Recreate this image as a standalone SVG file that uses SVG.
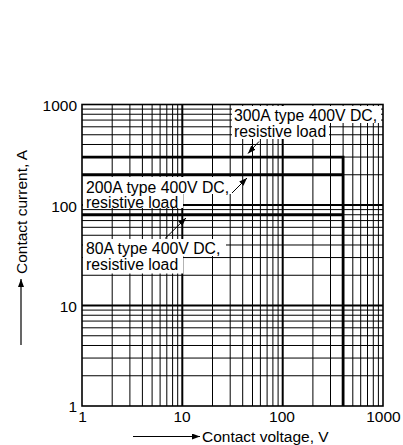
<svg xmlns="http://www.w3.org/2000/svg" width="403" height="445" viewBox="0 0 403 445">
<style>
text{font-family:"Liberation Sans",Arial,sans-serif;font-size:15.5px;fill:#000}
.lbl{font-size:15.8px}
.minor{stroke:#000;stroke-width:1;fill:none}
.major{stroke:#000;stroke-width:2;fill:none}
.curve{stroke:#000;stroke-width:2.8;fill:none}
.box{fill:#fff;stroke:none}
.lead{stroke:#000;stroke-width:1;fill:none}
.ax{stroke:#000;stroke-width:1.2;fill:none}
</style>
<defs>
<marker id="ah" viewBox="0 0 8 6" refX="8" refY="3" markerWidth="8" markerHeight="6" markerUnits="userSpaceOnUse" orient="auto">
<path d="M0,0 L8,3 L0,6 z" fill="#000"/>
</marker>
</defs>
<rect width="403" height="445" fill="#fff"/>
<g id="grid">
<path class="minor" d="M112.2 104.5V406M129.9 104.5V406M142.4 104.5V406M152.1 104.5V406M160.1 104.5V406M166.8 104.5V406M172.6 104.5V406M177.7 104.5V406M212.5 104.5V406M230.2 104.5V406M242.7 104.5V406M252.5 104.5V406M260.4 104.5V406M267.1 104.5V406M272.9 104.5V406M278.1 104.5V406M312.9 104.5V406M330.5 104.5V406M343.1 104.5V406M352.8 104.5V406M360.7 104.5V406M367.5 104.5V406M373.3 104.5V406M378.4 104.5V406"/>
<path class="minor" d="M82 375.75H383M82 358.05H383M82 345.49H383M82 335.75H383M82 327.8H383M82 321.07H383M82 315.24H383M82 310.1H383M82 275.25H383M82 257.55H383M82 244.99H383M82 235.25H383M82 227.3H383M82 220.57H383M82 214.74H383M82 209.6H383M82 174.75H383M82 157.05H383M82 144.49H383M82 134.75H383M82 126.8H383M82 120.07H383M82 114.24H383M82 109.1H383"/>
<path class="major" d="M182.3 104.5V406M282.7 104.5V406M82 305.5H383M82 205H383"/>
<rect x="82" y="104.5" width="301" height="301.5" fill="none" stroke="#000" stroke-width="1.6"/>
</g>
<g id="curves">
<path class="curve" d="M82 157.05H343.1V406"/>
<path class="curve" d="M82 174.75H343.1"/>
<path class="curve" d="M82 214.74H343.1"/>
</g>
<g id="label-300A">
<rect class="box" x="232" y="106" width="149" height="17"/>
<rect class="box" x="232" y="123" width="97" height="16"/>
<text class="lbl" x="234" y="120.5">300A type 400V DC,</text>
<text class="lbl" x="234" y="136.5">resistive load</text>
</g>
<g id="label-200A">
<rect class="box" x="83" y="177" width="148" height="17"/>
<rect class="box" x="83" y="194" width="100" height="14"/>
<text class="lbl" x="86" y="192.7">200A type 400V DC,</text>
<text class="lbl" x="86" y="208.3">resistive load</text>
</g>
<g id="label-80A">
<rect class="box" x="83" y="239" width="143" height="17"/>
<rect class="box" x="83" y="256" width="100" height="17.5"/>
<text class="lbl" x="86" y="254">80A type 400V DC,</text>
<text class="lbl" x="86" y="270">resistive load</text>
</g>
<g id="connectors">
<line class="lead" x1="259" y1="141.5" x2="248" y2="153.5" marker-end="url(#ah)"/>
<line class="lead" x1="232" y1="193" x2="247" y2="178" marker-end="url(#ah)"/>
<line class="lead" x1="165" y1="238.5" x2="186" y2="218" marker-end="url(#ah)"/>
</g>
<g id="ticks">
<text x="77" y="111" text-anchor="end">1000</text>
<text x="77" y="211.5" text-anchor="end">100</text>
<text x="77" y="311.5" text-anchor="end">10</text>
<text x="77" y="411.5" text-anchor="end">1</text>
<text x="82.5" y="422" text-anchor="middle">1</text>
<text x="182" y="422" text-anchor="middle">10</text>
<text x="282" y="422" text-anchor="middle">100</text>
<text x="383.5" y="422" text-anchor="middle">1000</text>
</g>
<g id="x-title">
<line class="ax" x1="133" y1="436.5" x2="200" y2="436.5" marker-end="url(#ah)"/>
<text x="202" y="441.5">Contact voltage, V</text>
</g>
<g id="y-title">
<line class="ax" x1="21" y1="345" x2="21" y2="279" marker-end="url(#ah)"/>
<text transform="translate(26.5,274) rotate(-90)">Contact current, A</text>
</g>
</svg>
